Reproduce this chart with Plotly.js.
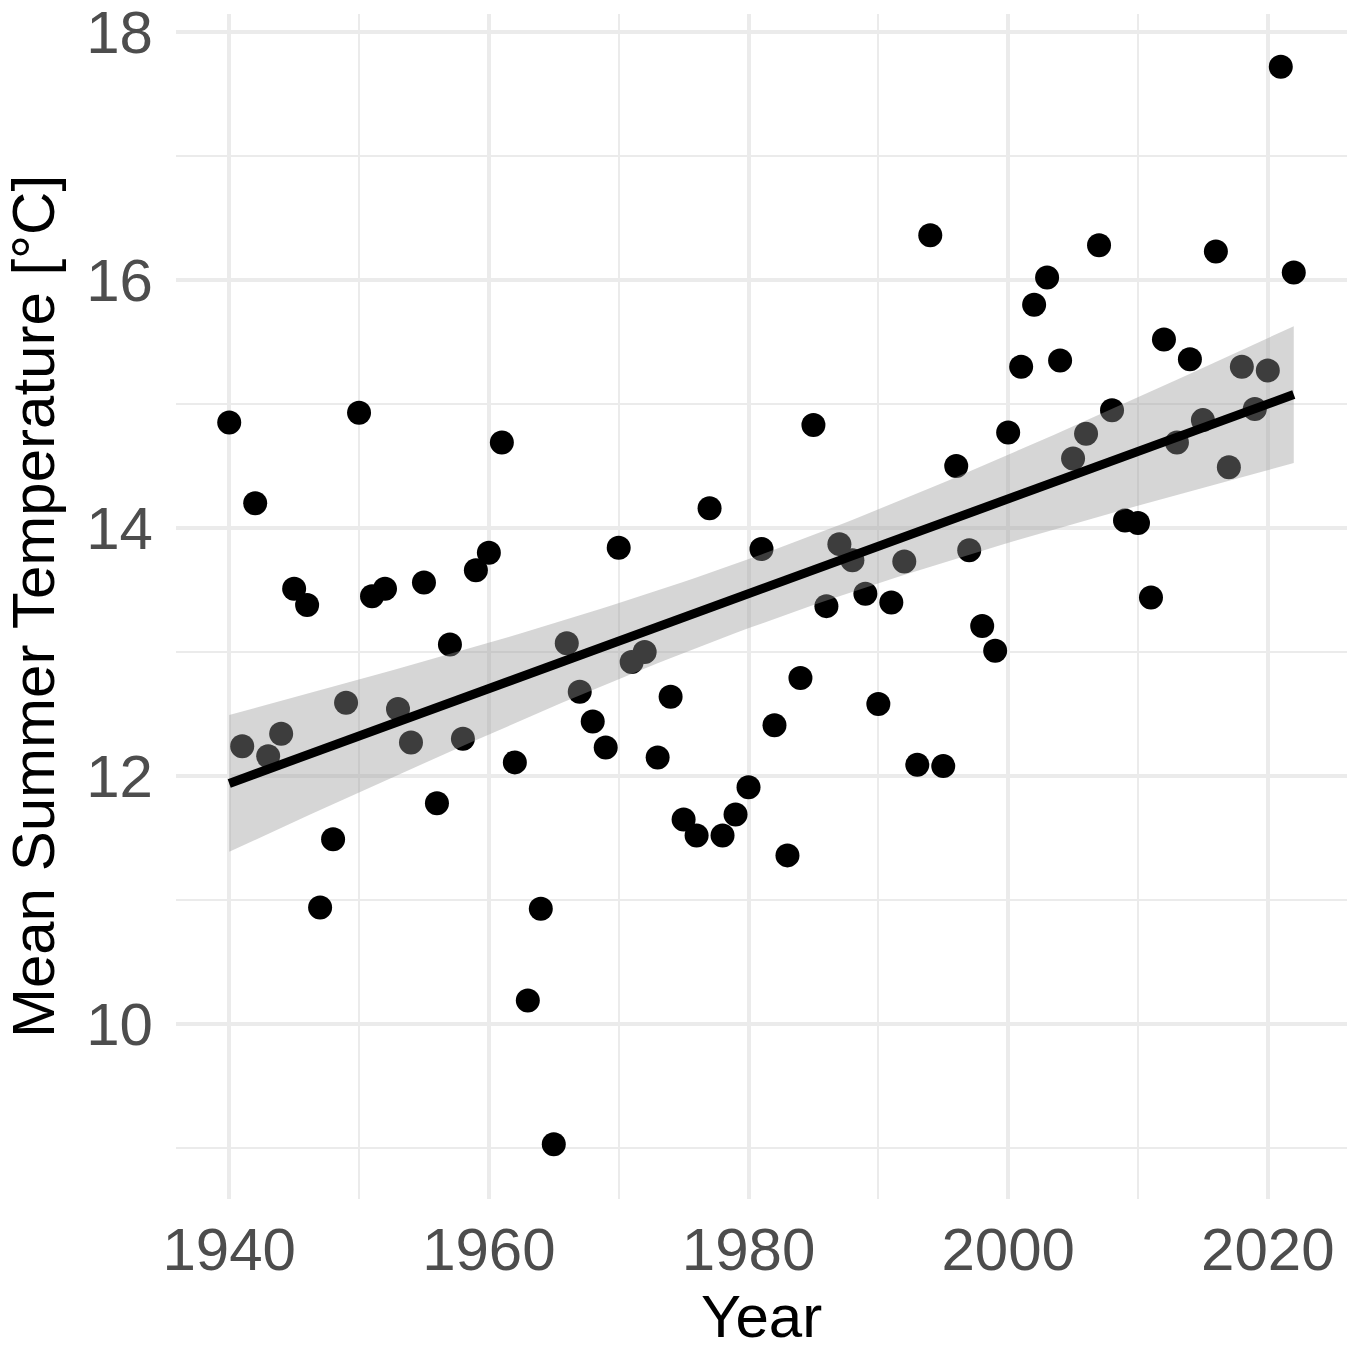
<!DOCTYPE html>
<html>
<head>
<meta charset="utf-8">
<script src="https://cdn.plot.ly/plotly-3.0.1.min.js"></script>
<style>html,body{margin:0;padding:0;background:#fff;}#chart{width:1350px;height:1362px;}</style>
</head>
<body>
<div id="chart"></div>
<script>
const years = [1940,1941,1942,1943,1944,1945,1946,1947,1948,1949,
  1950,1951,1952,1953,1954,1955,1956,1957,1958,1959,
  1960,1961,1962,1963,1964,1965,1966,1967,1968,1969,
  1970,1971,1972,1973,1974,1975,1976,1977,1978,1979,
  1980,1981,1982,1983,1984,1985,1986,1987,1988,1989,
  1990,1991,1992,1993,1994,1995,1996,1997,1998,1999,
  2000,2001,2002,2003,2004,2005,2006,2007,2008,2009,
  2010,2011,2012,2013,2014,2015,2016,2017,2018,2019,
  2020,2021,2022];
const temps = [14.85,12.24,14.20,12.16,12.34,13.51,13.38,10.94,11.49,12.59,
  14.93,13.45,13.51,12.54,12.27,13.56,11.78,13.06,12.30,13.66,
  13.80,14.69,12.11,10.19,10.93,9.03,13.07,12.68,12.44,12.23,
  13.84,12.92,13.00,12.15,12.64,11.65,11.52,14.16,11.52,11.69,
  11.91,13.83,12.41,11.36,12.79,14.83,13.37,13.87,13.74,13.47,
  12.58,13.40,13.73,12.09,16.36,12.08,14.50,13.82,13.21,13.01,
  14.77,15.30,15.80,16.02,15.35,14.56,14.76,16.28,14.95,14.06,
  14.04,13.44,15.52,14.69,15.36,14.87,16.23,14.49,15.30,14.96,
  15.27,17.72,16.06];
const xTickVals = [1940,1960,1980,2000,2020];
const yTickVals = [10,12,14,16,18];

// Linear model fit with 95% confidence band (as geom_smooth(method = "lm"))
const n = years.length;
const mx = years.reduce((a,b)=>a+b,0)/n;
const my = temps.reduce((a,b)=>a+b,0)/n;
let sxx=0, sxy=0;
for (let i=0;i<n;i++){ sxx+=(years[i]-mx)**2; sxy+=(years[i]-mx)*(temps[i]-my); }
const slope = sxy/sxx, icpt = my - slope*mx;
let sse=0;
for (let i=0;i<n;i++){ sse+=(temps[i]-(icpt+slope*years[i]))**2; }
const s = Math.sqrt(sse/(n-2));
const tq = 1.9897;
const xmin = Math.min(...years), xmax = Math.max(...years);
const gx=[], gy=[], up=[], lo=[];
for (let k=0;k<=80;k++){
  const x = xmin + (xmax-xmin)*k/80;
  const y = icpt + slope*x;
  const se = s*Math.sqrt(1/n + (x-mx)**2/sxx);
  gx.push(x); gy.push(y); up.push(y+tq*se); lo.push(y-tq*se);
}
const bandX = gx.concat(gx.slice().reverse());
const bandY = up.concat(lo.slice().reverse());

const traces = [
  {x: years, y: temps, type:'scatter', mode:'markers',
   marker:{color:'#000000', size:24, line:{width:0}}, hoverinfo:'x+y'},
  {x: bandX, y: bandY, type:'scatter', mode:'lines', fill:'toself',
   fillcolor:'rgba(153,153,153,0.4)', line:{width:0}, hoverinfo:'skip'},
  {x: gx, y: gy, type:'scatter', mode:'lines',
   line:{color:'#000000', width:9}, hoverinfo:'skip'}
];

const tickFont = {family:'Liberation Sans, Arial, sans-serif', size:60, color:'#4d4d4d'};
const titleFont = {family:'Liberation Sans, Arial, sans-serif', size:60, color:'#000000'};

const layout = {
  width:1350, height:1362,
  margin:{l:176, r:3, t:14, b:163, pad:0},
  paper_bgcolor:'#ffffff', plot_bgcolor:'#ffffff',
  showlegend:false,
  xaxis:{
    range:[1935.9, 2026.1], tickvals:xTickVals, ticktext:xTickVals.map(String),
    showgrid:true, gridcolor:'#ebebeb', gridwidth:4, zeroline:false, showline:false,
    ticks:'', tickfont:tickFont, ticklabelstandoff:10, ticklabeloverflow:'allow',
    minor:{tickvals:[1950,1970,1990,2010], showgrid:true, gridcolor:'#ebebeb', gridwidth:2, ticks:''},
    title:{text:'Year', font:titleFont, standoff:8}, automargin:false
  },
  yaxis:{
    range:[8.589, 18.145], tickvals:yTickVals, ticktext:yTickVals.map(String),
    showgrid:true, gridcolor:'#ebebeb', gridwidth:4, zeroline:false, showline:false,
    ticks:'', tickfont:tickFont, ticklabelstandoff:22, ticklabeloverflow:'allow',
    minor:{tickvals:[9,11,13,15,17], showgrid:true, gridcolor:'#ebebeb', gridwidth:2, ticks:''},
    title:{text:'Mean Summer Temperature [°C]', font:titleFont, standoff:16}, automargin:false
  }
};
Plotly.newPlot('chart', traces, layout, {staticPlot:true, displayModeBar:false});
</script>
</body>
</html>
